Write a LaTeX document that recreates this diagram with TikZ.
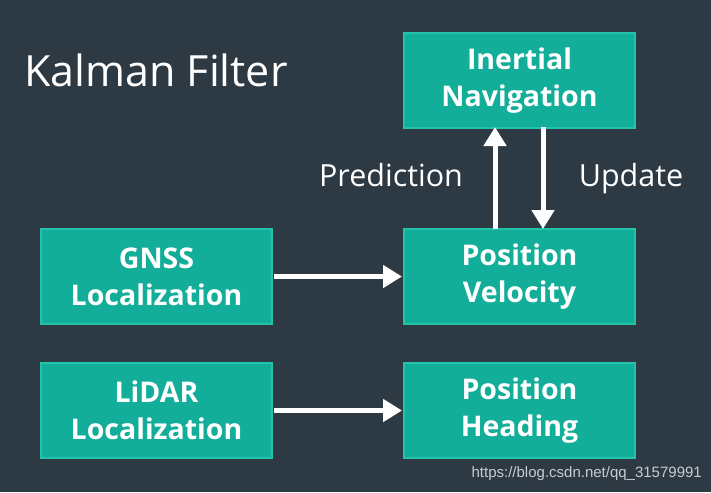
\documentclass[tikz,border=0pt]{standalone}
\usepackage{fontspec}
\setmainfont{Open Sans}
\newfontfamily\wmfont{Liberation Sans}
\usetikzlibrary{arrows.meta}
\definecolor{bgc}{HTML}{2D3943}
\definecolor{tealfill}{HTML}{12AE9A}
\definecolor{tealedge}{HTML}{22C2AB}
\definecolor{wmgray}{HTML}{C8CCD0}
\tikzset{
  box/.style={rectangle, fill=tealfill, draw=tealedge, line width=2pt,
    minimum width=231pt, minimum height=95pt, inner sep=0pt,
    text=white, align=center, font=\fontsize{28.5}{37}\selectfont\bfseries},
  arr/.style={draw=white, line width=5pt, -{Triangle[width=22pt,length=19pt]}},
  lbl/.style={text=white, font=\fontsize{30.5}{34}\selectfont, inner sep=0pt, anchor=base}
}
\begin{document}
\begin{tikzpicture}[x=1pt,y=-1pt]
\fill[bgc] (0,0) rectangle (711,492);
\useasboundingbox (0,0) rectangle (711,492);
\node[text=white, font=\fontsize{43}{48}\selectfont, anchor=base west, inner sep=0pt] (title) at (24,87) {Kalman Filter};
\node[box] (ins) at (519.5,80.5) {Inertial\\Navigation};
\node[box] (gnss) at (156.5,276.5) {GNSS\\Localization};
\node[box] (pv) at (519.5,276.5) {Position\\Velocity};
\node[box] (lidar) at (156.5,410.5) {LiDAR\\Localization};
\node[box] (ph) at (519.5,410.5) {Position\\Heading};
\node[lbl] (pred) at (391,186) {Prediction};
\node[lbl] (upd) at (631,186) {Update};
\draw[arr] ([xshift=1pt]gnss.east) -- ([xshift=-1pt]pv.west);
\draw[arr] ([xshift=1pt]lidar.east) -- ([xshift=-1pt]ph.west);
\draw[arr] ([xshift=-24.5pt,yshift=-1pt]pv.north) -- ([xshift=-24.5pt,yshift=2pt]ins.south);
\draw[arr] ([xshift=23.5pt,yshift=2pt]ins.south) -- ([xshift=23.5pt,yshift=-1pt]pv.north);
\node[text=wmgray, font=\wmfont\fontsize{15}{18}\selectfont, anchor=base east, inner sep=0pt] (wm) at (702,477) {https://blog.csdn.net/qq\_31579991};
\end{tikzpicture}
\end{document}
